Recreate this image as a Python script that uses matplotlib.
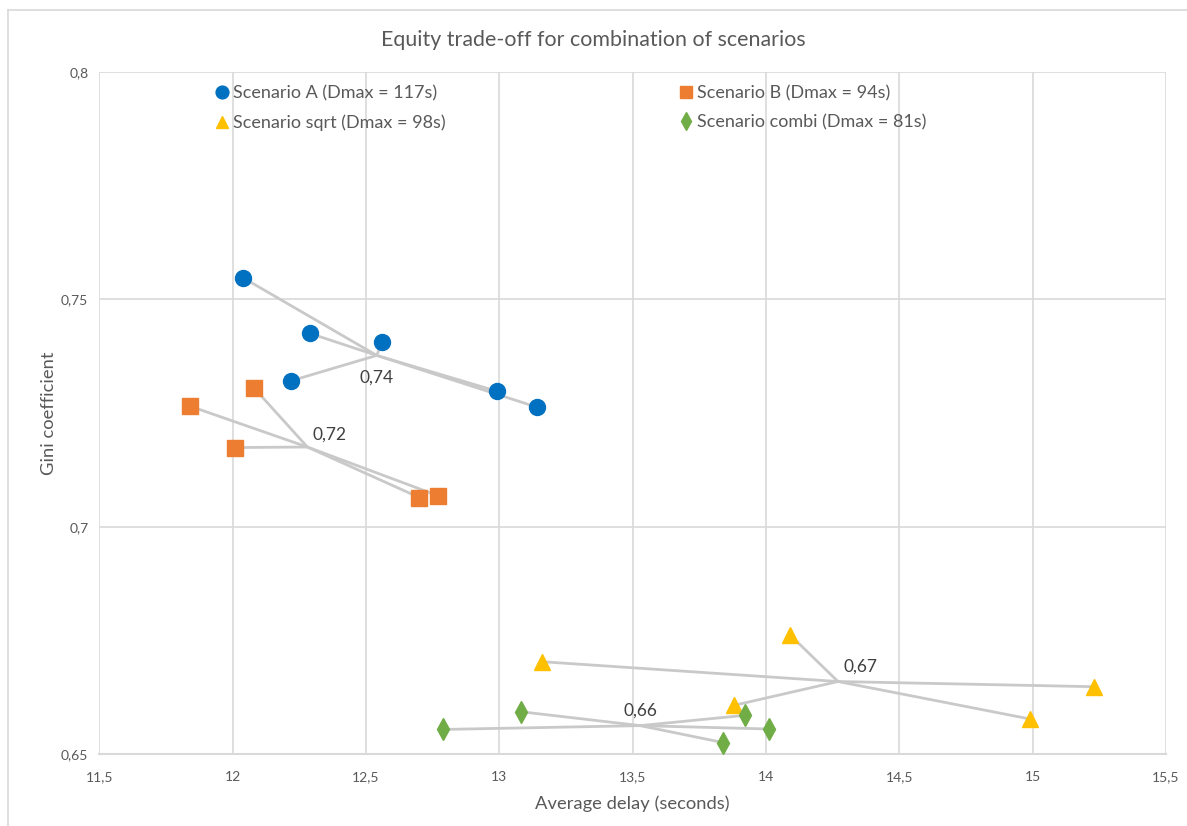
import numpy as np
import matplotlib
matplotlib.use("Agg")
import matplotlib.pyplot as plt
from matplotlib.ticker import FuncFormatter, MultipleLocator
from matplotlib.lines import Line2D

plt.rcParams['font.family'] = ['Lato', 'DejaVu Sans']

# Scenario results: average delay (s) vs Gini coefficient
a_delay = [12.04, 12.29, 12.56, 12.22, 12.99, 13.14]
a_gini = [0.7547, 0.7425, 0.7406, 0.7321, 0.7298, 0.7263]

b_delay = [12.08, 11.84, 12.01, 12.70, 12.77]
b_gini = [0.7305, 0.7265, 0.7174, 0.7064, 0.7068]

sqrt_delay = [13.16, 14.09, 13.88, 15.23, 14.99]
sqrt_gini = [0.6703, 0.6762, 0.6607, 0.6648, 0.6577]

combi_delay = [12.79, 13.08, 13.92, 14.01, 13.84]
combi_gini = [0.6554, 0.6593, 0.6585, 0.6555, 0.6525]

labels = ['Scenario A (Dmax = 117s)', 'Scenario B (Dmax = 94s)',
          'Scenario sqrt (Dmax = 98s)', 'Scenario combi (Dmax = 81s)']
colors = ['#0070C0', '#ED7D31', '#FFC000', '#70AD47']
markers = ['o', 's', '^', 'd']
msizes = [11.5, 11.5, 11.5, 11]
# offsets (points) of the centroid label
label_offsets = [(0, -16), (16, 9), (16, 11), (0, 11)]

series = [(a_delay, a_gini), (b_delay, b_gini),
          (sqrt_delay, sqrt_gini), (combi_delay, combi_gini)]

fig = plt.figure(figsize=(11.87, 8.26), dpi=100)
ax = fig.add_axes([99.4 / 1187, 1 - 754 / 826, (1166 - 99.4) / 1187, (754 - 72) / 826])

grid_c = '#d9d9d9'
txt_c = '#595959'

# outer chart border
fig.add_artist(Line2D([8 / 1187, 8 / 1187], [0, 1 - 10 / 826], color=grid_c, lw=1.2))
fig.add_artist(Line2D([8 / 1187, 1], [1 - 10 / 826, 1 - 10 / 826], color=grid_c, lw=1.2))

handles = []
for (xs, ys), lab, c, m, ms, off in zip(series, labels, colors, markers, msizes, label_offsets):
    xs = np.array(xs)
    ys = np.array(ys)
    cx, cy = xs.mean(), ys.mean()
    for x, y in zip(xs, ys):
        ax.plot([x, cx], [y, cy], color='#c9c9c9', lw=2, zorder=2, solid_capstyle='butt')
    h, = ax.plot(xs, ys, linestyle='none', marker=m, markersize=ms, color=c,
                 markeredgecolor=c, zorder=3, label=lab)
    handles.append(h)
    ax.annotate(f"{cy:.2f}".replace('.', ','), (cx, cy), xytext=off,
                textcoords='offset points', ha='center', va='center',
                fontsize=12.5, color='#404040', zorder=4)

ax.set_xlim(11.5, 15.5)
ax.set_ylim(0.65, 0.8)
ax.xaxis.set_major_locator(MultipleLocator(0.5))
ax.yaxis.set_major_locator(MultipleLocator(0.05))
fmt = FuncFormatter(lambda v, p: f"{v:g}".replace('.', ','))
ax.xaxis.set_major_formatter(fmt)
ax.yaxis.set_major_formatter(fmt)
ax.grid(True, color=grid_c, lw=1.2, zorder=0)
ax.set_axisbelow(True)
for s in ['top', 'right', 'left']:
    ax.spines[s].set_visible(False)
ax.spines['bottom'].set_color(grid_c)
ax.spines['bottom'].set_linewidth(1.5)
ax.tick_params(length=0, colors=txt_c, labelsize=10, pad=12)
ax.tick_params(axis='y', pad=8)

ax.set_xlabel('Average delay (seconds)', fontsize=13.2, color=txt_c, labelpad=9)
ax.set_ylabel('Gini coefficient', fontsize=13.2, color=txt_c, labelpad=3)
fig.text(0.5, 1 - 40 / 826, 'Equity trade-off for combination of scenarios',
         ha='center', va='center', fontsize=15.4, color=txt_c)

order = [handles[0], handles[2], handles[1], handles[3]]
ax.legend(order, [h.get_label() for h in order], ncol=2, loc='upper left',
          bbox_to_anchor=(0.091, 1.004), frameon=False, fontsize=13,
          labelcolor=txt_c, handletextpad=0.1, handlelength=1.0,
          columnspacing=12.85, labelspacing=0.72, markerscale=0.8)

fig.savefig('out.png', dpi=100, facecolor='white')
